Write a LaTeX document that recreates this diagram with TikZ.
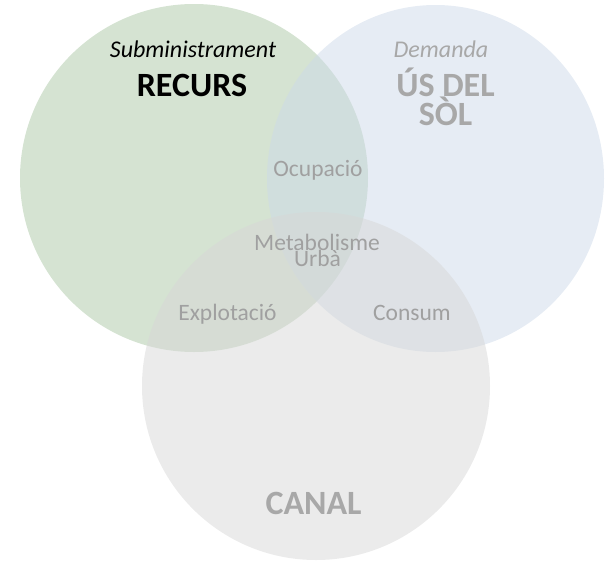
\documentclass[tikz,border=0pt]{standalone}
\usepackage{fontspec}
\setmainfont{Carlito}
\definecolor{cgreen}{RGB}{171,199,165}
\definecolor{cblue}{RGB}{205,217,233}
\definecolor{cgray}{RGB}{215,215,215}
\definecolor{tgray}{RGB}{168,168,168}
\definecolor{lgray}{RGB}{160,160,160}
\begin{document}
\begin{tikzpicture}[x=1pt,y=-1pt,
  disc/.style={fill opacity=0.5,draw=none},
  sub/.style={font=\fontsize{24}{26}\selectfont\itshape,anchor=base,inner sep=0pt},
  big/.style={font=\fontsize{34}{35}\selectfont\bfseries,anchor=base,inner sep=0pt},
  lbl/.style={font=\fontsize{23.5}{24}\selectfont,text=lgray,anchor=base,inner sep=0pt}]
\useasboundingbox (0,0) rectangle (605,562);
\fill[disc,cgreen] (194,178) ellipse [x radius=174,y radius=174];
\fill[disc,cblue] (435.5,178.5) ellipse [x radius=168.5,y radius=173.5];
\fill[disc,cgray] (316,386) ellipse [x radius=174,y radius=174];
\node[sub] (sub) at (193,57) {Subministrament};
\node[big] (rec) at (192,96) {RECURS};
\node[sub,text=tgray] (dem) at (441,57) {Demanda};
\node[big,text=tgray] (us) at (445.5,96) {ÚS DEL};
\node[big,text=tgray] (sol) at (445.5,125) {SÒL};
\node[lbl] (ocu) at (318,176) {Ocupació};
\node[lbl] (met) at (317,250) {Metabolisme};
\node[lbl] (urb) at (317.5,266) {Urbà};
\node[lbl] (exp) at (227.5,320) {Explotació};
\node[lbl] (con) at (412,320) {Consum};
\node[big,text=tgray] (can) at (313.5,514) {CANAL};
\end{tikzpicture}
\end{document}
